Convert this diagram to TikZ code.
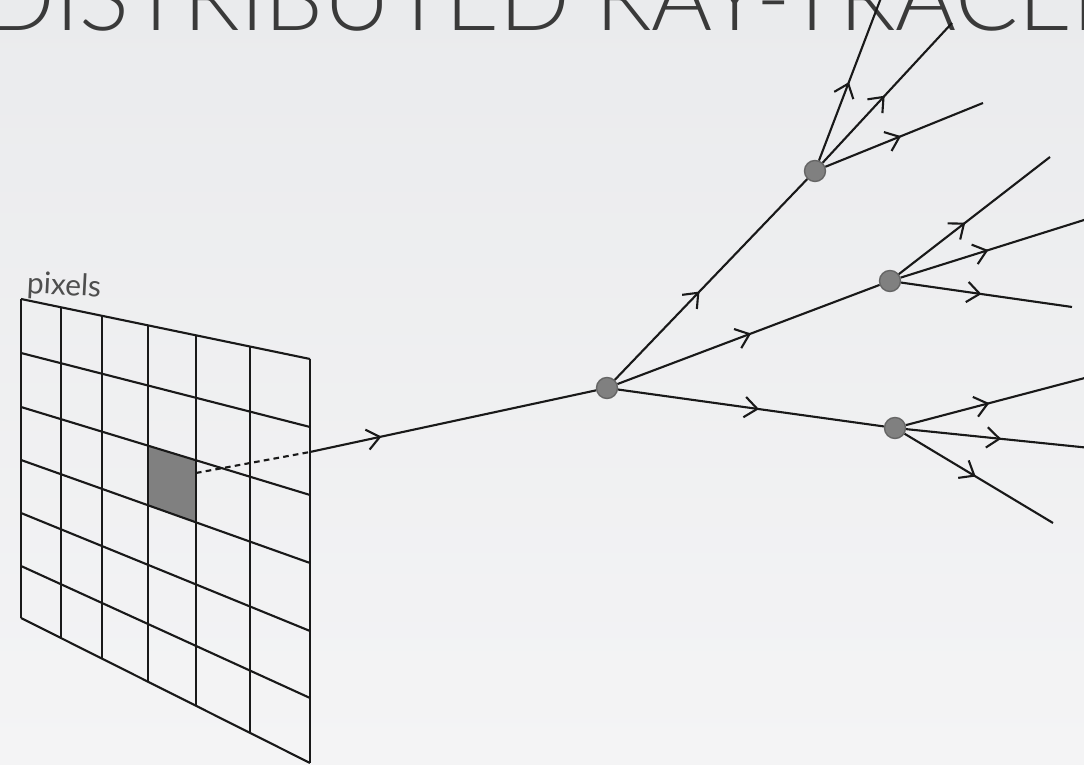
\documentclass[tikz,border=0pt]{standalone}
\usepackage{fontspec}
\setmainfont{Lato}
\newfontfamily\titlefont{Lato Light}
\usetikzlibrary{arrows.meta, decorations.markings}

\definecolor{bgtop}{RGB}{234,235,237}
\definecolor{bgbottom}{RGB}{244,244,245}
\definecolor{inkgray}{RGB}{58,58,58}
\definecolor{hitfill}{RGB}{128,128,128}

\tikzstyle{hitpoint} = [draw=black!60, fill=hitfill, circle, inner sep=0, minimum size=0.21cm, line width=0.4pt]
\tikzset{
  ray/.style={line width=0.6pt, black!90, postaction={decorate},
    decoration={markings, mark=at position #1 with {\arrow{Straight Barb[length=3.6pt, width=5.8pt, line width=0.6pt]}}}},
  ray/.default=0.5
}

\begin{document}
\begin{tikzpicture}[x=0.01cm, y=-0.01cm]
      \useasboundingbox (0, 0) rectangle (1084, 765);
      \clip (0, 0) rectangle (1084, 765);
      \fill[top color=bgtop, bottom color=bgbottom] (0, 0) rectangle (1084, 765);

      \node[anchor=base west, inner sep=0, text=inkgray, font=\titlefont\fontsize{26.5}{30}\selectfont] (title) at (-16, 31) {DISTRIBUTED RAY-TRACER};
      \node[anchor=base west, inner sep=0, text=inkgray!90, font=\fontsize{8.5}{10}\selectfont, rotate=-3] (gridlabel) at (26, 293) {pixels};

      % the picked pixel, then the screen grid in perspective
      \fill[hitfill] (148, 445.7) -- (196, 460.3) -- (196, 522.4) -- (148, 505.3) -- cycle;
      \foreach \x in {21, 61, 102, 148, 196, 250, 310}
        \draw[line width=0.6pt, black!90] (\x, {299 + (\x - 21) / 289 * 60}) -- (\x, {618 + (\x - 21) / 289 * 145});
      \foreach \yl/\yr in {299/359, 353/427, 407/495, 460/563, 513/631, 566/698, 618/763}
        \draw[line width=0.6pt, black!90] (21, \yl) -- (310, \yr);

      \coordinate (pixel) at (196, 473);
      \coordinate (exitpt) at (310, 452);

      \node[hitpoint] (hitA) at (607, 388) {};
      \node[hitpoint] (hitB) at (815, 171) {};
      \node[hitpoint] (hitC) at (890, 281) {};
      \node[hitpoint] (hitD) at (895, 428) {};

      \coordinate (b1) at (884, -10);
      \coordinate (b2) at (952, 23);
      \coordinate (b3) at (983, 103);
      \coordinate (c1) at (1050, 157);
      \coordinate (c2) at (1100, 215);
      \coordinate (c3) at (1072, 307);
      \coordinate (d1) at (1100, 374);
      \coordinate (d2) at (1100, 449);
      \coordinate (d3) at (1053, 523);

      \draw[line width=0.6pt, black!90, dash pattern=on 1.6pt off 1.2pt] (pixel) -- (exitpt);
      \draw[ray=0.25] (exitpt) -- (hitA);

      \draw[ray=0.44] (hitA) -- (hitB);
      \draw[ray=0.51] (hitA) -- (hitC);
      \draw[ray=0.53] (hitA) -- (hitD);

      \draw[ray=0.46] (hitB) -- (b1);
      \draw[ray=0.48] (hitB) -- (b2);
      \draw[ray=0.48] (hitB) -- (b3);

      \draw[ray=0.44] (hitC) -- (c1);
      \draw[ray=0.44] (hitC) -- (c2);
      \draw[ray=0.47] (hitC) -- (c3);

      \draw[ray=0.43] (hitD) -- (d1);
      \draw[ray=0.49] (hitD) -- (d2);
      \draw[ray=0.48] (hitD) -- (d3);
    \end{tikzpicture}
\end{document}
